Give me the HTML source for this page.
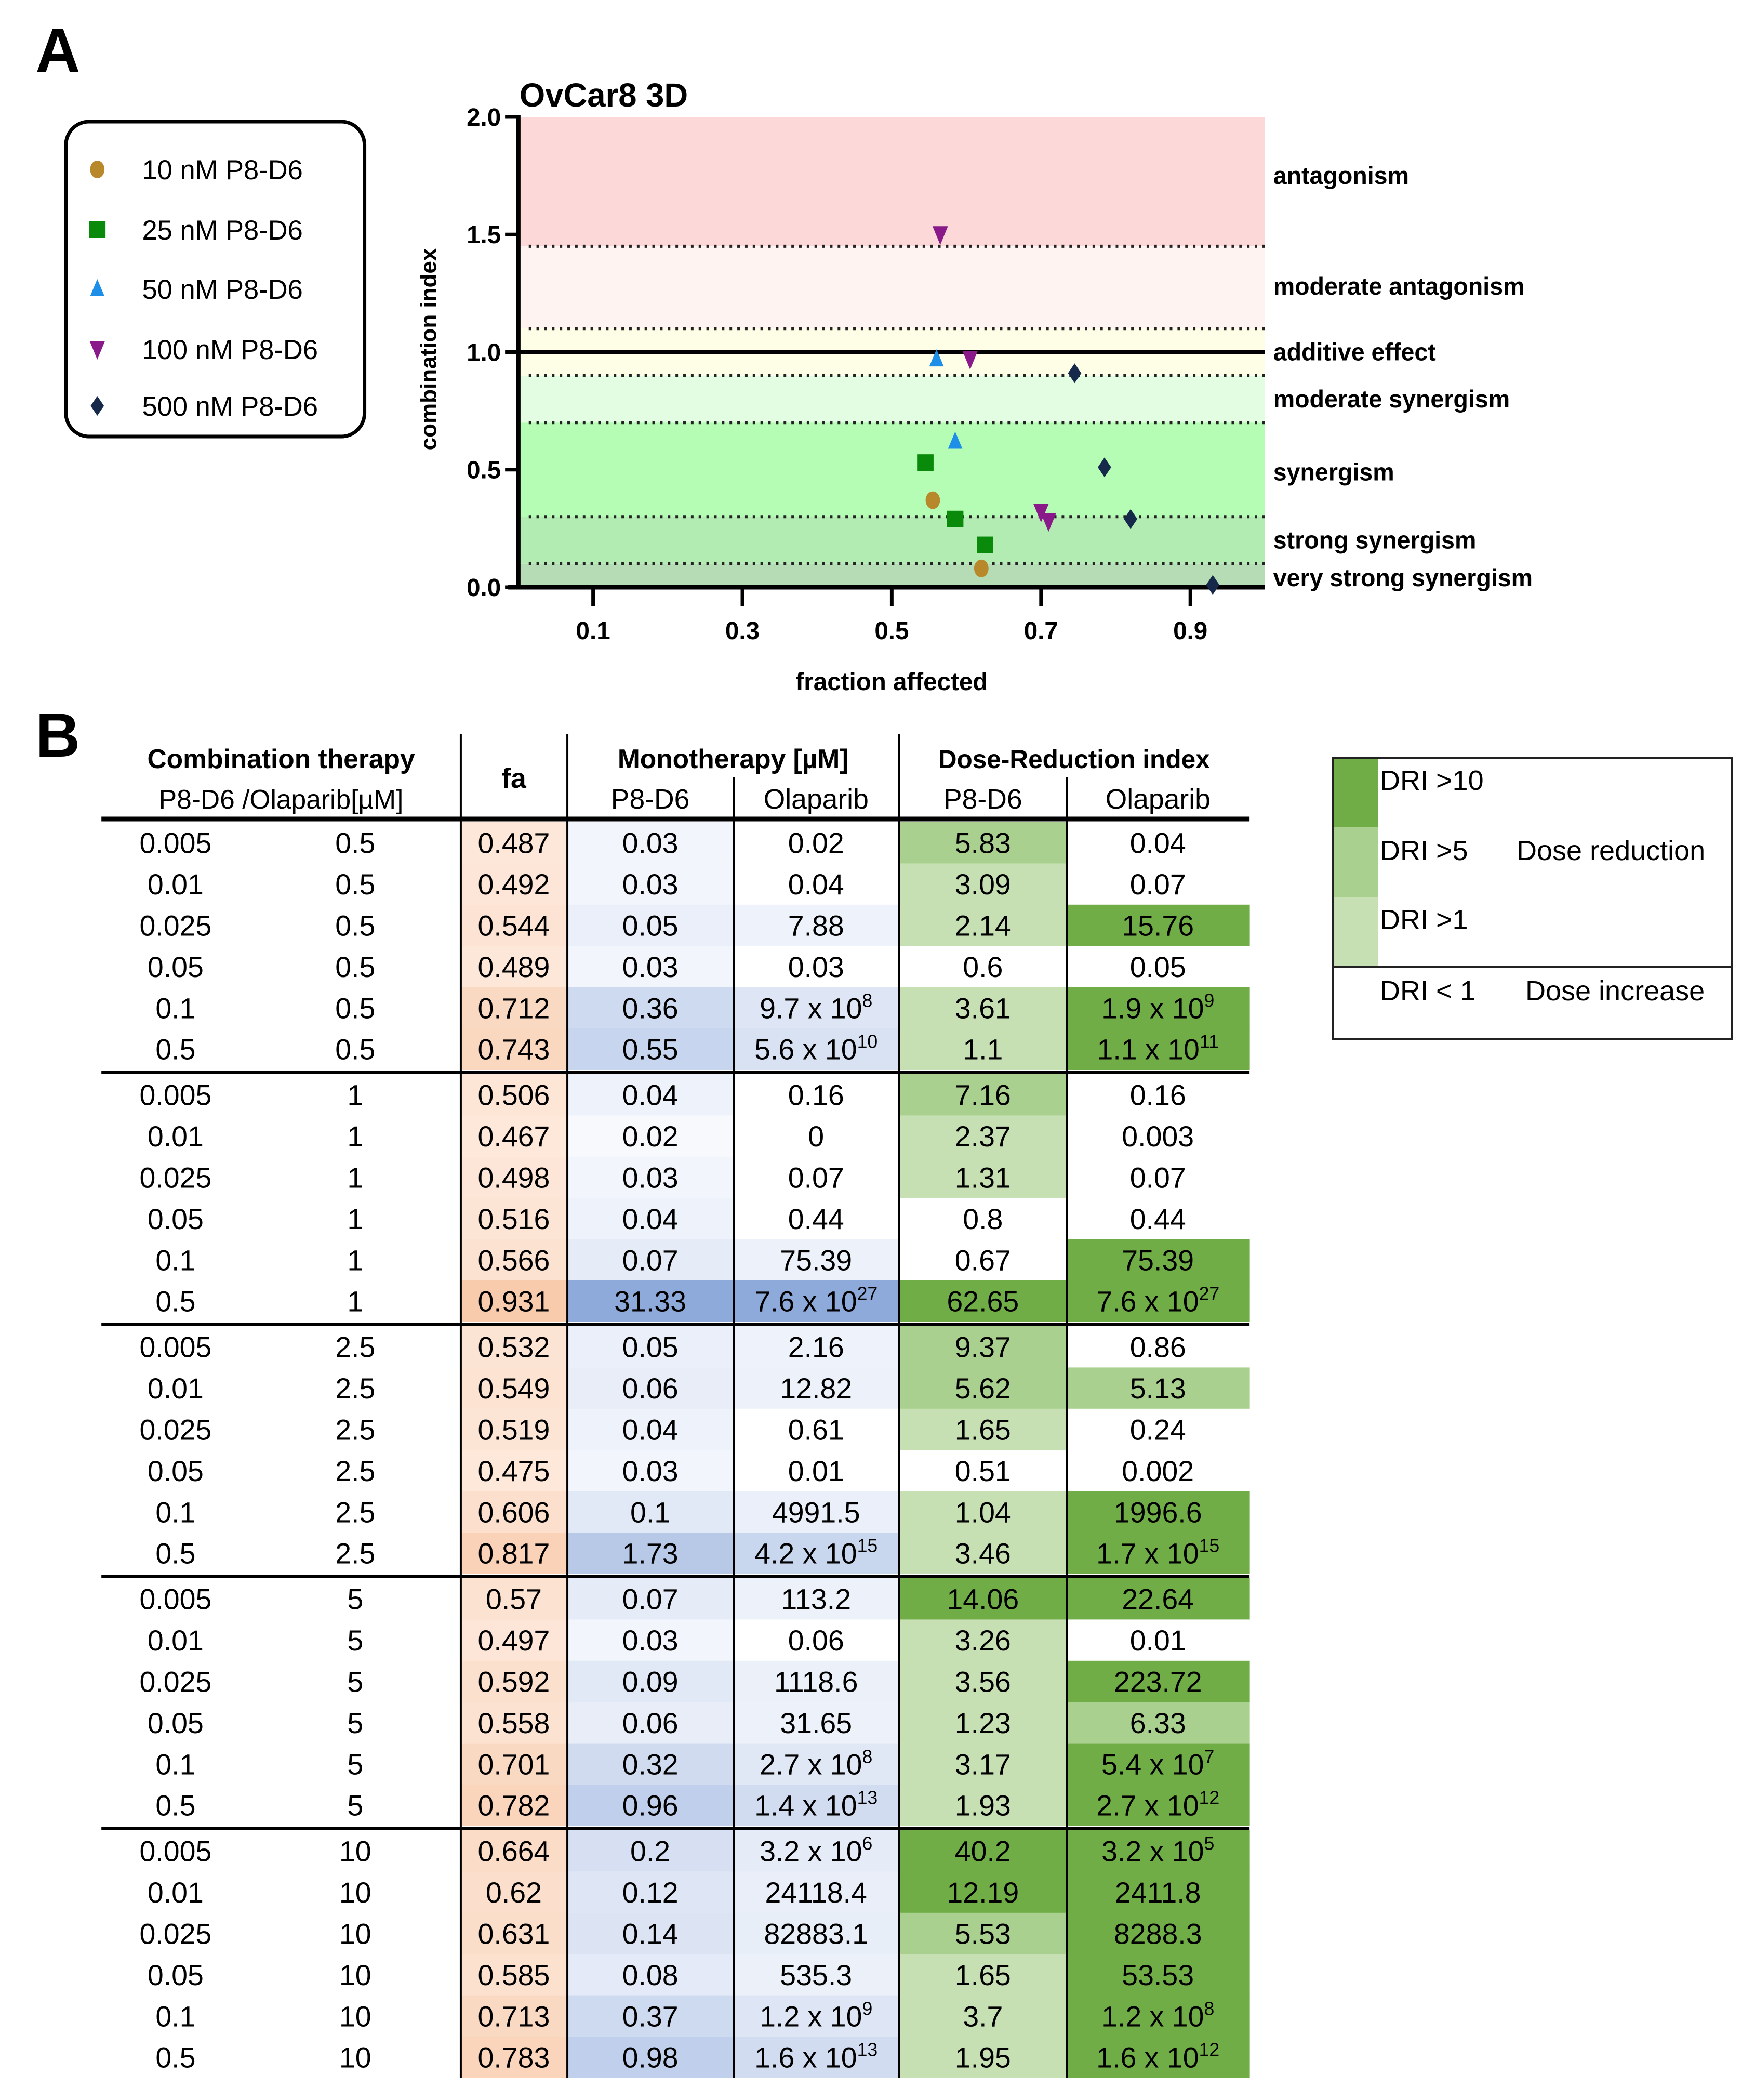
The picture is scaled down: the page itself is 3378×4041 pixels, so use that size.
<!DOCTYPE html>
<html><head><meta charset="utf-8">
<style>
html,body{margin:0;padding:0;background:#fff;}
svg{display:block;font-family:"Liberation Sans",sans-serif;}
</style></head>
<body>
<svg id="fig" width="3378" height="4041" viewBox="0 0 3378 4041" xmlns="http://www.w3.org/2000/svg">
  <rect x="0" y="0" width="3378" height="4041" fill="#fff"/>
  <g transform="translate(-3,0) scale(0.991,1)">
  <text x="72" y="138" font-size="120" font-weight="bold">A</text>
  <text x="72" y="1456" font-size="120" font-weight="bold">B</text>
  <g id="chart"></g>
  <g id="table"></g>
  </g>
  <g id="dri-legend">
    <rect x="2565" y="1458" width="769" height="541" fill="#fff" stroke="#222" stroke-width="4"/>
    <rect x="2567" y="1460" width="85" height="132" fill="#70ad47"/>
    <rect x="2567" y="1592" width="85" height="135" fill="#a9d08e"/>
    <rect x="2567" y="1727" width="85" height="134" fill="#c6e0b4"/>
    <line x1="2565" y1="1861" x2="3334" y2="1861" stroke="#222" stroke-width="4"/>
    <text x="2656" y="1520" font-size="54">DRI &gt;10</text>
    <text x="2656" y="1655" font-size="54">DRI &gt;5</text>
    <text x="2919" y="1655" font-size="54">Dose reduction</text>
    <text x="2656" y="1788" font-size="54">DRI &gt;1</text>
    <text x="2656" y="1925" font-size="54">DRI &lt; 1</text>
    <text x="2936" y="1925" font-size="54">Dose increase</text>
  </g>
</svg>
<script>
// ---------- chart data ----------
const seriesNames = ["10 nM P8-D6","25 nM P8-D6","50 nM P8-D6","100 nM P8-D6","500 nM P8-D6"];
const faS1 = [0.555, 0.62];            const ciS1 = [0.37, 0.08];
const faS2 = [0.545, 0.585, 0.625];    const ciS2 = [0.53, 0.29, 0.18];
const faS3 = [0.56, 0.585];            const ciS3 = [0.97, 0.62];
const faS4 = [0.565, 0.605, 0.70, 0.71]; const ciS4 = [1.50, 0.97, 0.32, 0.28];
const faS5 = [0.745, 0.785, 0.82, 0.93]; const ciS5 = [0.91, 0.51, 0.29, 0.01];
const xTicks = [0.1, 0.3, 0.5, 0.7, 0.9];
const yTicks = [0.0, 0.5, 1.0, 1.5, 2.0];
const bandEdges = [2.0, 1.45, 1.1, 0.9, 0.7, 0.3, 0.1, 0.0];
const bandLabels = ["antagonism","moderate antagonism","additive effect","moderate synergism","synergism","strong synergism","very strong synergism"];
const bandLabelCI = [1.75, 1.28, 1.0, 0.8, 0.49, 0.2, 0.04];

// ---------- table data ----------
const olapDose = [0.5, 1, 2.5, 5, 10];
const p8Dose = [0.005, 0.01, 0.025, 0.05, 0.1, 0.5];
const faVals = [0.487,0.492,0.544,0.489,0.712,0.743, 0.506,0.467,0.498,0.516,0.566,0.931, 0.532,0.549,0.519,0.475,0.606,0.817, 0.57,0.497,0.592,0.558,0.701,0.782, 0.664,0.62,0.631,0.585,0.713,0.783];
const monoP8 = [0.03,0.03,0.05,0.03,0.36,0.55, 0.04,0.02,0.03,0.04,0.07,31.33, 0.05,0.06,0.04,0.03,0.1,1.73, 0.07,0.03,0.09,0.06,0.32,0.96, 0.2,0.12,0.14,0.08,0.37,0.98];
const monoOla = ["0.02","0.04","7.88","0.03","9.7e8","5.6e10", "0.16","0","0.07","0.44","75.39","7.6e27", "2.16","12.82","0.61","0.01","4991.5","4.2e15", "113.2","0.06","1118.6","31.65","2.7e8","1.4e13", "3.2e6","24118.4","82883.1","535.3","1.2e9","1.6e13"];
const driP8 = [5.83,3.09,2.14,0.6,3.61,1.1, 7.16,2.37,1.31,0.8,0.67,62.65, 9.37,5.62,1.65,0.51,1.04,3.46, 14.06,3.26,3.56,1.23,3.17,1.93, 40.2,12.19,5.53,1.65,3.7,1.95];
const driOla = ["0.04","0.07","15.76","0.05","1.9e9","1.1e11", "0.16","0.003","0.07","0.44","75.39","7.6e27", "0.86","5.13","0.24","0.002","1996.6","1.7e15", "22.64","0.01","223.72","6.33","5.4e7","2.7e12", "3.2e5","2411.8","8288.3","53.53","1.2e8","1.6e12"];

const NS = "http://www.w3.org/2000/svg";
function mk(tag, attrs, parent){ const e=document.createElementNS(NS,tag); for(const k in attrs) e.setAttribute(k,attrs[k]); parent.appendChild(e); return e; }

// ---------- chart ----------
const chart = document.getElementById('chart');
const X0=1010, X1=2460, Y0=1130, Y1=225;
const xs = v => X0 + v*(X1-X0);
const ys = v => Y0 - v/2*(Y0-Y1);
const bandColors = ["#fdd8d8","#fff3f2","#fefde6","#e3fde2","#b5fdb5","#b3ecb3","#b5dcb5"];
for(let i=0;i<bandColors.length;i++){
  const r=mk('rect',{x:X0,y:ys(bandEdges[i]),width:X1-X0,height:ys(bandEdges[i+1])-ys(bandEdges[i]),fill:bandColors[i]},chart);
  
  
}
[1.45,1.1,0.9,0.7,0.3,0.1].forEach(v=>{
  const l=mk('line',{x1:X0+20,x2:X1,y1:ys(v),y2:ys(v),stroke:'#222','stroke-width':6,'stroke-dasharray':'5 10'},chart);
  
  
});
const addLine=mk('line',{x1:X0,x2:X1,y1:ys(1),y2:ys(1),stroke:'#000','stroke-width':7},chart);


const yAx=mk('line',{x1:X0,x2:X0,y1:Y1-4,y2:Y0+4,stroke:'#000','stroke-width':8},chart);


const xAx=mk('line',{x1:X0-20,x2:X1,y1:Y0,y2:Y0,stroke:'#000','stroke-width':9},chart);


yTicks.forEach(v=>{
  mk('line',{x1:X0-26,x2:X0,y1:ys(v),y2:ys(v),stroke:'#000','stroke-width':7},chart);
  const t=mk('text',{x:X0-34,y:ys(v)+17,'text-anchor':'end','font-size':48,'font-weight':'bold'},chart);
  t.textContent=v.toFixed(1);
  
  
});
xTicks.forEach(v=>{
  mk('line',{x1:xs(v),x2:xs(v),y1:Y0,y2:Y0+36,stroke:'#000','stroke-width':7},chart);
  const t=mk('text',{x:xs(v),y:1230,'text-anchor':'middle','font-size':48,'font-weight':'bold'},chart);
  t.textContent=String(v);
  
  
});
const ttl=mk('text',{x:1012,y:205,'font-size':64,'font-weight':'bold'},chart); ttl.textContent='OvCar8 3D';


const xt=mk('text',{x:1735,y:1328,'text-anchor':'middle','font-size':48,'font-weight':'bold'},chart); xt.textContent='fraction affected';


const yt=mk('text',{x:0,y:0,'text-anchor':'middle','font-size':44,'font-weight':'bold',transform:'translate(850,672) rotate(-90)'},chart); yt.textContent='combination index';


bandLabels.forEach((s,i)=>{
  const t=mk('text',{x:2476,y:ys(bandLabelCI[i])+16,'font-size':47,'font-weight':'bold'},chart);
  t.textContent=s;
  
  
});
const colors=["#b8892a","#0a8a0a","#1e8fe8","#8a1a8a","#16294a"];
function marker(kind,cx,cy,parent){
  const s=16; let e;
  if(kind===0) e=mk('ellipse',{cx:cx,cy:cy,rx:14,ry:17,fill:colors[0]},parent);
  else if(kind===1) e=mk('rect',{x:cx-s,y:cy-s,width:2*s,height:2*s,fill:colors[1]},parent);
  else if(kind===2) e=mk('polygon',{points:`${cx},${cy-19} ${cx+14},${cy+14} ${cx-14},${cy+14}`,fill:colors[2]},parent);
  else if(kind===3) e=mk('polygon',{points:`${cx-15},${cy-16} ${cx+15},${cy-16} ${cx},${cy+20}`,fill:colors[3]},parent);
  else e=mk('polygon',{points:`${cx},${cy-19} ${cx+13},${cy} ${cx},${cy+19} ${cx-13},${cy}`,fill:colors[4]},parent);
  return e;
}
const allFa=[faS1,faS2,faS3,faS4,faS5], allCi=[ciS1,ciS2,ciS3,ciS4,ciS5];
allFa.forEach((arr,k)=>arr.forEach((v,i)=>{
  const m=marker(k,xs(v),ys(allCi[k][i]),chart);
  
  
}));
const lg=mk('g',{},chart);


mk('rect',{x:131,y:234,width:580,height:606,rx:45,fill:'#fff',stroke:'#000','stroke-width':7},lg);
const legY=[326,442,556,672,781];
seriesNames.forEach((s,k)=>{
  marker(k,192,legY[k],lg);
  const t=mk('text',{x:279,y:legY[k]+19,'font-size':53},lg);
  t.textContent=s;
  
  
});

// ---------- table ----------
const tb=document.getElementById('table');
const TL=200, TR=2430, C=[200,898,1105,1428,1749,2075,2430];
const top0=1582, RH=79.4, GH=485;
function mix(a,b,t){t=Math.max(0,Math.min(1,t));const pa=[1,3,5].map(i=>parseInt(a.substr(i,2),16)),pb=[1,3,5].map(i=>parseInt(b.substr(i,2),16));return 'rgb('+pa.map((v,i)=>Math.round(v+(pb[i]-v)*t)).join(',')+')';}
const faMin=Math.min(...faVals), faMax=Math.max(...faVals);
function faCol(v){return mix('#fde8da','#f8cbad',(v-faMin)/(faMax-faMin));}
function p8Col(v){return mix('#f8f9fd','#8eaadb',(Math.log10(Math.max(v,0.01))+1.7)/3.2);}
function olaCol(v){ if(v<1) return '#ffffff'; const t=Math.log10(v)/27.9; return mix('#eef2fa','#8eaadb',Math.pow(t,1.6)); }
function driCol(v){ return v>10?'#70ad47':v>5?'#a9d08e':v>1?'#c6e0b4':'#ffffff'; }
function addText(x,y,str,parent,name){
  const t=mk('text',{x:x,y:y,'text-anchor':'middle','font-size':56},parent);
  const m=String(str).match(/^([\d.]+)e(\d+)$/);
  if(m){
    t.appendChild(document.createTextNode(m[1]+' x 10'));
    const sp=mk('tspan',{'font-size':36,dy:-22},t); sp.textContent=m[2];
  } else t.textContent=String(str);
  
  
  return t;
}
for(let g=0;g<olapDose.length;g++){
  for(let i=0;i<p8Dose.length;i++){
    const idx=g*6+i, y=top0+g*GH+i*RH, cy=y+RH/2+20;
    const fills=[null,faCol(faVals[idx]),p8Col(monoP8[idx]),olaCol(parseFloat(monoOla[idx])),driCol(driP8[idx]),driCol(parseFloat(driOla[idx]))];
    for(let c=1;c<6;c++){
      const r=mk('rect',{x:C[c],y:y,width:C[c+1]-C[c]+0.5,height:RH+0.6,fill:fills[c]},tb);
      
      
    }
    addText(344,cy,p8Dose[i],tb,'p8-dose');
    addText(693,cy,olapDose[g],tb,'olaparib-dose');
    addText(1001,cy,faVals[idx],tb,'fa-value');
    addText(1266,cy,monoP8[idx],tb,'mono-p8-value');
    addText(1588,cy,monoOla[idx],tb,'mono-olaparib-value');
    addText(1912,cy,driP8[idx],tb,'dri-p8-value');
    addText(2252,cy,driOla[idx],tb,'dri-olaparib-value');
  }
  if(g>0){
    const l=mk('line',{x1:TL,x2:TR,y1:top0+g*GH-4,y2:top0+g*GH-4,stroke:'#000','stroke-width':6},tb);
    
    
  }
}
const TB=top0+4*GH+6*RH;
[898,1105,1749].forEach(x=>mk('line',{x1:x,x2:x,y1:1413,y2:TB,stroke:'#000','stroke-width':4},tb));
[1428,2075].forEach(x=>mk('line',{x1:x,x2:x,y1:1495,y2:TB,stroke:'#000','stroke-width':4},tb));
const hl=mk('line',{x1:TL,x2:TR,y1:1576,y2:1576,stroke:'#000','stroke-width':9},tb);


function hdr(x,y,s,bold,name,size){const t=mk('text',{x:x,y:y,'text-anchor':'middle','font-size':size||54,'font-weight':bold?'bold':'normal'},tb);t.textContent=s;
  
  }
hdr(549,1478,'Combination therapy',true,'header-combination',52);
hdr(549,1556,'P8-D6 /Olaparib[µM]',false,'header-doses',52);
hdr(1001,1516,'fa',true,'header-fa');
hdr(1427,1478,'Monotherapy [µM]',true,'header-monotherapy',52);
hdr(2089,1478,'Dose-Reduction index',true,'header-dri',50);
hdr(1266,1556,'P8-D6',false,'header-mono-p8');
hdr(1588,1556,'Olaparib',false,'header-mono-olaparib');
hdr(1912,1556,'P8-D6',false,'header-dri-p8');
hdr(2252,1556,'Olaparib',false,'header-dri-olaparib');
</script>
</body></html>
